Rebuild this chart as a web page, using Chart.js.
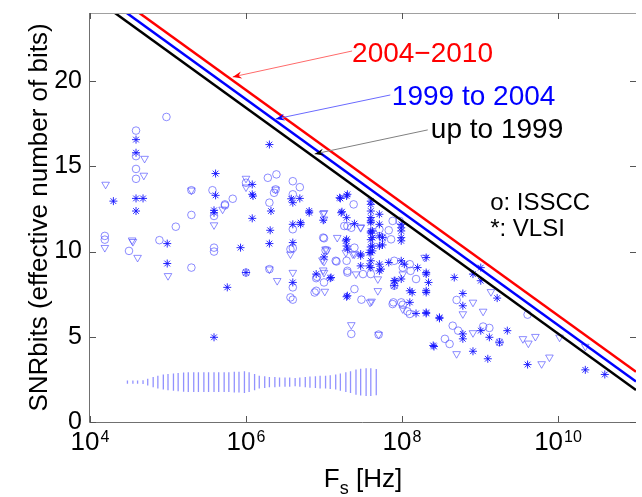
<!DOCTYPE html>
<html>
<head>
<meta charset="utf-8">
<script src="https://cdn.jsdelivr.net/npm/chart.js@4"></script>
<style>
	body { margin: 0; background: #fff; }
	#wrap { width: 642px; height: 497px; position: relative; }
</style>
</head>
<body>
<div id="wrap"><canvas id="chartSnr"></canvas></div>
<script>
'use strict'

const FONT = "'Liberation Sans', Arial, sans-serif";

// axes
const xTickExp = [4, 6, 8, 10];
const yTickVals = [0, 5, 10, 15, 20];

// limit lines, [log10 Fs, SNRbits] at both ends
const limitLogFs = [4, 11];
const limitUpTo1999 = [25.06, 1.88];
const limit1999to2004 = [25.56, 2.37];
const limit2004to2010 = [26.09, 2.95];

// o: ISSCC   [log10 Fs, bits]
const isscc = [
	[4.98, 17.9], [4.59, 17.1], [4.59, 15.6], [4.59, 14.85], [4.59, 14.27], [5.30, 13.6], [5.30, 12.15],
	[5.57, 13.6], [5.10, 11.46], [4.89, 10.67], [4.19, 10.92], [4.19, 10.7], [4.50, 10.04], [5.83, 13.1],
	[5.73, 12.71], [5.59, 12.09], [5.59, 10.23], [5.59, 10.0], [6.0, 14.04], [5.30, 9.06], [6.0, 8.77],
	[6.30, 8.97], [6.57, 10.14], [6.57, 7.31], [6.60, 11.31], [6.60, 10.2], [6.60, 7.9], [6.60, 7.18],
	[7.0, 10.78], [7.16, 9.42], [6.90, 8.44], [7.0, 8.19], [6.90, 7.7], [6.88, 7.6], [7.35, 5.17],
	[7.70, 5.13], [7.30, 8.77], [7.39, 7.8], [7.48, 7.18], [7.29, 9.46], [7.60, 8.68], [7.89, 7.02],
	[7.99, 7.02], [8.07, 6.49], [7.38, 12.77], [7.26, 11.5], [7.35, 11.4], [7.71, 11.31], [7.75, 10.82],
	[7.86, 10.72], [7.83, 11.25], [7.88, 11.8], [7.97, 11.8], [6.99, 10.82], [7.39, 10.23], [7.15, 9.46],
	[7.30, 8.87], [7.50, 8.68], [6.91, 8.52], [7.88, 6.92], [8.01, 6.88], [8.10, 6.34], [7.90, 9.46],
	[8.01, 9.06], [8.10, 9.26], [8.18, 8.39], [8.11, 8.87], [7.90, 8.0], [6.28, 14.33], [6.39, 14.53],
	[6.60, 14.13], [6.69, 13.78], [6.60, 13.36], [6.38, 13.65], [6.36, 13.45], [6.30, 12.87], [5.73, 12.77],
	[7.30, 11.5], [8.70, 7.16], [8.65, 5.65], [8.72, 5.36], [8.55, 4.88], [8.61, 4.58], [9.04, 5.6],
	[9.12, 5.52], [9.25, 4.68], [9.61, 6.3], [7.02, 10.08]
];

// *: VLSI
const vlsi = [
	[4.59, 16.57], [4.59, 15.8], [4.30, 12.96], [4.59, 13.12], [4.68, 13.12], [4.59, 12.38], [5.61, 13.3],
	[5.61, 14.58], [5.59, 12.42], [4.99, 10.47], [5.59, 12.28], [6.08, 13.94], [6.09, 13.26], [6.08, 11.95],
	[5.93, 10.23], [4.99, 9.3], [5.59, 4.97], [5.76, 7.9], [6.0, 8.77], [6.30, 10.47], [6.31, 11.25],
	[6.60, 11.6], [6.60, 10.53], [6.70, 11.6], [6.60, 8.19], [7.0, 9.69], [6.90, 8.68], [7.08, 8.44],
	[7.29, 7.35], [7.29, 10.72], [7.29, 10.33], [7.47, 9.85], [7.47, 9.16], [7.58, 9.16], [7.73, 8.97],
	[7.90, 8.29], [7.90, 8.0], [7.62, 11.21], [7.62, 10.82], [7.62, 10.33], [7.62, 10.04], [7.75, 10.82],
	[7.75, 10.39], [7.99, 11.6], [7.99, 11.21], [7.99, 10.82], [8.03, 9.26], [8.13, 7.6], [7.29, 13.26],
	[7.20, 13.16], [7.60, 12.77], [7.22, 12.28], [6.81, 12.28], [6.99, 11.84], [6.70, 11.7], [7.29, 11.99],
	[7.39, 11.64], [7.60, 12.0], [7.60, 11.7], [7.60, 11.1], [7.60, 10.7], [7.60, 10.27], [7.60, 9.94],
	[7.60, 9.46], [7.60, 9.06], [7.71, 12.19], [7.71, 11.6], [7.71, 10.92], [7.71, 10.33], [7.71, 9.26],
	[7.71, 8.87], [7.99, 11.4], [7.99, 10.63], [7.28, 10.63], [7.30, 10.14], [7.47, 9.75], [7.58, 9.94],
	[7.09, 8.48], [7.30, 7.41], [7.83, 9.36], [7.99, 9.46], [7.99, 8.39], [7.91, 8.29], [8.10, 7.7],
	[8.20, 9.06], [8.31, 8.68], [8.31, 7.6], [8.18, 6.37], [8.31, 6.37], [8.10, 7.02], [8.40, 4.49],
	[8.48, 6.14], [6.30, 16.28], [6.32, 12.38], [6.60, 12.87], [6.69, 13.12], [6.81, 12.38], [7.21, 13.12],
	[7.30, 13.36], [7.23, 12.34], [7.60, 12.96], [7.60, 12.38], [7.60, 11.8], [7.60, 11.2], [6.58, 13.1],
	[6.08, 13.36], [8.31, 9.65], [8.31, 8.77], [8.31, 7.7], [8.31, 6.43], [8.34, 8.19], [8.67, 8.48],
	[9.01, 9.06], [9.01, 8.29], [8.91, 8.68], [9.22, 7.27], [8.78, 7.54], [8.78, 6.82], [8.48, 6.08],
	[8.78, 5.17], [8.78, 4.88], [8.41, 4.43], [9.01, 5.36], [9.12, 4.97], [8.91, 4.15], [9.25, 4.68],
	[9.35, 5.36], [9.10, 3.71], [9.61, 3.37], [10.35, 3.06], [10.6, 2.79]
];

// triangles (unlabelled)
const triangles = [
	[4.70, 15.46], [4.69, 14.47], [4.20, 13.94], [5.30, 13.6], [4.54, 10.67], [4.19, 10.23], [5.70, 12.48],
	[5.59, 11.56], [6.0, 14.29], [6.0, 13.78], [4.55, 10.58], [4.61, 9.65], [5.0, 8.58], [6.30, 8.97],
	[6.40, 8.29], [6.57, 9.85], [6.60, 8.77], [7.17, 10.82], [7.04, 10.08], [7.0, 9.42], [7.0, 8.77],
	[7.01, 7.66], [7.35, 5.7], [7.70, 5.13], [7.61, 7.08], [7.28, 9.94], [7.37, 9.85], [7.69, 8.39],
	[7.69, 7.7], [6.99, 12.22], [7.47, 11.4], [7.02, 10.14], [7.39, 9.85], [6.98, 9.5], [6.99, 8.91],
	[7.41, 8.68], [7.59, 7.02], [8.01, 8.68], [8.29, 9.65], [8.01, 6.63], [7.0, 12.28], [7.0, 11.9],
	[7.47, 11.44], [9.14, 7.64], [8.91, 7.02], [8.78, 6.34], [9.04, 6.49], [8.91, 5.23], [8.70, 4.0],
	[9.55, 4.88], [9.62, 4.62], [9.71, 5.01], [9.79, 3.41], [9.89, 3.8], [10.02, 4.97], [10.35, 4.43],
	[6.38, 13.65]
];

// distribution strip at the bottom: position (log10 Fs) and bar length (bits)
const stripCenter = 2.34;
const stripLogFs = [
	4.48, 4.55, 4.61, 4.68, 4.74, 4.81, 4.87, 4.94, 5.00, 5.07, 5.13, 5.20, 5.26, 5.33, 5.39, 5.46, 5.52,
	5.59, 5.65, 5.72, 5.78, 5.85, 5.91, 5.98, 6.04, 6.11, 6.17, 6.24, 6.30, 6.37, 6.43, 6.50, 6.56, 6.63,
	6.69, 6.76, 6.82, 6.89, 6.95, 7.02, 7.08, 7.15, 7.21, 7.28, 7.34, 7.41, 7.47, 7.54, 7.60, 7.67
];
const stripLen = [
	0.18, 0.18, 0.18, 0.23, 0.41, 0.59, 0.76, 0.88, 0.94, 1.0, 1.06, 1.12, 1.17, 1.17, 1.17, 1.17, 1.17,
	1.17, 1.17, 1.17, 1.17, 1.23, 1.23, 1.29, 1.17, 0.94, 0.76, 0.7, 0.59, 0.59, 0.53, 0.53, 0.53, 0.47,
	0.53, 0.59, 0.65, 0.7, 0.76, 0.76, 0.82, 0.88, 1.0, 1.17, 1.29, 1.47, 1.58, 1.64, 1.64, 1.53
];

// annotations, anchored in data coordinates
const notes = [
	{ text: '2004\u22122010', color: '#ff0000', at: [7.36, 21.13], size: 28 },
	{ text: '1999 to 2004', color: '#0000ff', at: [7.87, 18.6], size: 28 },
	{ text: 'up to 1999', color: '#000000', at: [8.37, 16.67], size: 28 },
	{ text: 'o: ISSCC', color: '#000000', at: [9.13, 12.44], size: 24 },
	{ text: '*: VLSI', color: '#000000', at: [9.13, 10.89], size: 24 },
];
const arrows = [
	{ from: [7.36, 21.77], to: [5.83, 20.25], line: '#ff6a6a', head: '#ff0000' },
	{ from: [7.85, 19.19], to: [6.38, 17.78], line: '#6a6aff', head: '#0000ff' },
	{ from: [8.33, 17.14], to: [6.88, 15.73], line: '#808080', head: '#000000' },
];

const toPoints = (list) => list.map(p => ({ x: 10 ** p[0], y: p[1] }));
const limitLine = (vals) => limitLogFs.map((lf, i) => ({ x: 10 ** lf, y: vals[i] }));

let stripData = [];
stripLogFs.forEach((lf, i) => {
	stripData.push({ x: 10 ** lf, y: stripCenter - stripLen[i] / 2 });
	stripData.push({ x: 10 ** lf, y: stripCenter + stripLen[i] / 2 });
	stripData.push({ x: 10 ** lf, y: null });
});

const overlay = {
	id: 'overlay',
	afterDraw(chart) {
		const ctx = chart.ctx;
		const a = chart.chartArea;
		const xs = chart.scales.x;
		const ys = chart.scales.y;
		const pt = (p) => [xs.getPixelForValue(10 ** p[0]), ys.getPixelForValue(p[1])];
		ctx.save();

		// frame
		ctx.lineWidth = 1;
		ctx.strokeStyle = '#a0a0a0';
		ctx.beginPath();
		ctx.moveTo(a.left, a.top + 0.5);
		ctx.lineTo(a.right, a.top + 0.5);
		ctx.stroke();
		ctx.strokeStyle = '#707070';
		ctx.beginPath();
		ctx.moveTo(a.left - 0.5, a.top);
		ctx.lineTo(a.left - 0.5, a.bottom + 0.5);
		ctx.lineTo(a.right, a.bottom + 0.5);
		ctx.stroke();

		// inward ticks
		ctx.strokeStyle = '#555';
		ctx.beginPath();
		xTickExp.forEach(e => {
			const px = Math.round(xs.getPixelForValue(10 ** e)) + 0.5;
			ctx.moveTo(px, a.bottom);
			ctx.lineTo(px, a.bottom - 6);
			ctx.moveTo(px, a.top);
			ctx.lineTo(px, a.top + 6);
		});
		yTickVals.forEach(v => {
			const py = Math.round(ys.getPixelForValue(v)) + 0.5;
			ctx.moveTo(a.left, py);
			ctx.lineTo(a.left + 6, py);
			ctx.moveTo(a.right, py);
			ctx.lineTo(a.right - 6, py);
		});
		ctx.stroke();

		// x tick labels 10^n
		ctx.fillStyle = '#000';
		ctx.textBaseline = 'alphabetic';
		ctx.textAlign = 'left';
		xTickExp.forEach(e => {
			const px = xs.getPixelForValue(10 ** e);
			ctx.font = '26px ' + FONT;
			const wBase = ctx.measureText('10').width;
			ctx.font = '16px ' + FONT;
			const wExp = ctx.measureText(String(e)).width;
			const left = px - (wBase + wExp + 1) / 2;
			ctx.font = '26px ' + FONT;
			ctx.fillText('10', left, a.bottom + 28);
			ctx.font = '16px ' + FONT;
			ctx.fillText(String(e), left + wBase + 1, a.bottom + 20);
		});

		// x title F_s [Hz]
		ctx.font = '26px ' + FONT;
		const wF = ctx.measureText('F').width;
		const wHz = ctx.measureText(' [Hz]').width;
		ctx.font = '18px ' + FONT;
		const wS = ctx.measureText('s').width;
		let tx = (a.left + a.right) / 2 - (wF + wS + wHz) / 2;
		ctx.font = '26px ' + FONT;
		ctx.fillText('F', tx, a.bottom + 65);
		ctx.font = '18px ' + FONT;
		ctx.fillText('s', tx + wF, a.bottom + 72);
		ctx.font = '26px ' + FONT;
		ctx.fillText(' [Hz]', tx + wF + wS, a.bottom + 65);

		// y title
		ctx.save();
		ctx.translate(47, (a.top + a.bottom) / 2);
		ctx.rotate(-Math.PI / 2);
		ctx.textAlign = 'center';
		ctx.font = '26px ' + FONT;
		ctx.fillText('SNRbits (effective number of bits)', 0, 0);
		ctx.restore();

		// arrows
		arrows.forEach(ar => {
			const [x0, y0] = pt(ar.from);
			const [x1, y1] = pt(ar.to);
			const ang = Math.atan2(y1 - y0, x1 - x0);
			ctx.strokeStyle = ar.line;
			ctx.lineWidth = 1;
			ctx.beginPath();
			ctx.moveTo(x0, y0);
			ctx.lineTo(x1, y1);
			ctx.stroke();
			ctx.fillStyle = ar.head;
			ctx.beginPath();
			ctx.moveTo(x1, y1);
			ctx.lineTo(x1 - 9 * Math.cos(ang) + 3.5 * Math.sin(ang), y1 - 9 * Math.sin(ang) - 3.5 * Math.cos(ang));
			ctx.lineTo(x1 - 6 * Math.cos(ang), y1 - 6 * Math.sin(ang));
			ctx.lineTo(x1 - 9 * Math.cos(ang) - 3.5 * Math.sin(ang), y1 - 9 * Math.sin(ang) + 3.5 * Math.cos(ang));
			ctx.closePath();
			ctx.fill();
		});

		// labels
		notes.forEach(n => {
			const [x0, y0] = pt(n.at);
			ctx.font = n.size + 'px ' + FONT;
			ctx.fillStyle = n.color;
			ctx.textAlign = 'left';
			ctx.fillText(n.text, x0, y0);
		});
		ctx.restore();
	}
};

const markerColor = 'rgba(80, 80, 255, 0.65)';

let chartSnr = new Chart(document.getElementById('chartSnr'), {
	type: 'scatter',
	data: {
		datasets: [
			{
				label: '2004-2010',
				data: limitLine(limit2004to2010),
				showLine: true,
				borderColor: '#ff0000',
				borderWidth: 2.5,
				pointRadius: 0,
				order: 0,
			},
			{
				label: '1999 to 2004',
				data: limitLine(limit1999to2004),
				showLine: true,
				borderColor: '#0000ff',
				borderWidth: 2.5,
				pointRadius: 0,
				order: 0,
			},
			{
				label: 'up to 1999',
				data: limitLine(limitUpTo1999),
				showLine: true,
				borderColor: '#000000',
				borderWidth: 2.5,
				pointRadius: 0,
				order: 0,
			},
			{
				label: 'ISSCC',
				data: toPoints(isscc),
				pointStyle: 'circle',
				pointRadius: 3.8,
				borderColor: markerColor,
				backgroundColor: 'rgba(0,0,0,0)',
				borderWidth: 1,
				order: 2,
			},
			{
				label: 'triangles',
				data: toPoints(triangles),
				pointStyle: 'triangle',
				rotation: 180,
				pointRadius: 4.4,
				borderColor: markerColor,
				backgroundColor: 'rgba(0,0,0,0)',
				borderWidth: 1,
				order: 2,
			},
			{
				label: 'VLSI',
				data: toPoints(vlsi),
				pointStyle: 'star',
				pointRadius: 4,
				borderColor: 'rgba(20, 20, 255, 0.9)',
				borderWidth: 1,
				order: 1,
			},
			{
				label: 'strip',
				data: stripData,
				showLine: true,
				spanGaps: false,
				borderColor: 'rgba(110, 110, 255, 0.75)',
				borderWidth: 1.3,
				pointRadius: 0,
				order: 3,
			},
		],
	},
	options: {
		responsive: true,
		maintainAspectRatio: false,
		animation: false,
		events: [],
		layout: {
			padding: { top: 13, right: 6, left: 0, bottom: 0 },
		},
		plugins: {
			legend: { display: false },
			tooltip: { enabled: false },
		},
		scales: {
			x: {
				type: 'logarithmic',
				min: 1e4,
				max: 1e11,
				grid: { display: false, drawTicks: false },
				border: { display: false },
				ticks: { display: false },
				afterFit: (scale) => {
					scale.height = 75;
					scale.paddingLeft = 0;
					scale.paddingRight = 0;
				},
			},
			y: {
				min: 0,
				max: 24,
				grid: { display: false, drawTicks: false },
				border: { display: false },
				ticks: {
					stepSize: 5,
					includeBounds: false,
					padding: 8,
					color: '#000',
					font: { family: FONT, size: 25 },
				},
				afterFit: (scale) => {
					scale.width = 90;
					scale.paddingTop = 0;
					scale.paddingBottom = 0;
				},
			},
		},
	},
	plugins: [overlay],
});
</script>
</body>
</html>
